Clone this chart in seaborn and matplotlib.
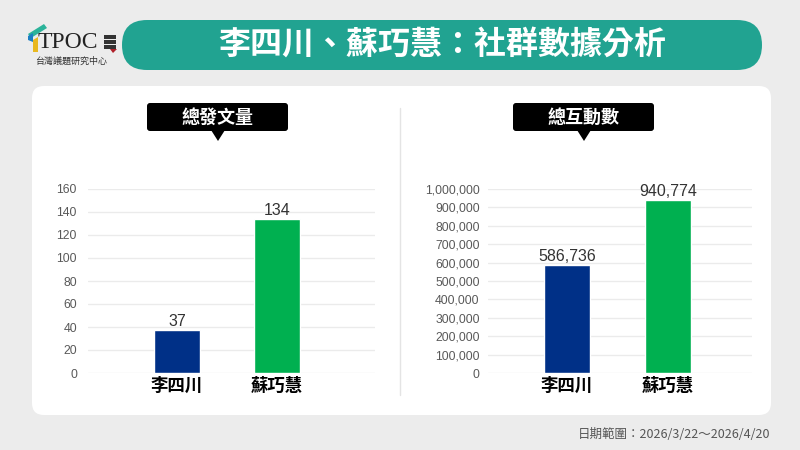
import matplotlib
matplotlib.use('Agg')
import matplotlib.pyplot as plt
from matplotlib.patches import FancyBboxPatch, Polygon
from matplotlib.ticker import FuncFormatter
import seaborn as sns

# data
names = ['李四川', '蘇巧慧']
posts = [37, 134]
interactions = [586736, 940774]
bar_colors = ['#003087', '#00b050']

title = '李四川、蘇巧慧：社群數據分析'
panel_titles = ['總發文量', '總互動數']
date_note = '日期範圍：2026/3/22～2026/4/20'

sns.set_theme(style='white')
plt.rcParams['font.family'] = ['Noto Sans CJK TC', 'DejaVu Sans']

W, H = 800, 450
fig = plt.figure(figsize=(8, 4.5), dpi=100)
fig.patch.set_facecolor('#ececec')


def px(x0, y0, x1, y1):
    return [x0 / W, 1 - y1 / H, (x1 - x0) / W, (y1 - y0) / H]


# overlay for decorations (pixel coordinates)
deco = fig.add_axes([0, 0, 1, 1], zorder=0)
deco.set_xlim(0, W)
deco.set_ylim(H, 0)
deco.axis('off')

# title pill
deco.add_patch(FancyBboxPatch((122, 20), 640, 50, boxstyle='round,pad=0,rounding_size=25',
                              fc='#21a391', ec='none'))
deco.text(442, 45, title, color='white', fontsize=23, fontweight='bold',
          ha='center', va='center')

# white card
deco.add_patch(FancyBboxPatch((32, 86), 739, 329, boxstyle='round,pad=0,rounding_size=12',
                              fc='white', ec='none'))
deco.plot([400, 400], [108, 395], color='#e4e4e4', lw=1)

# logo
deco.add_patch(Polygon([(28, 34), (44, 24), (47, 28), (31, 38)], fc='#2bb39a', ec='none'))
deco.add_patch(Polygon([(28, 36), (33, 33), (33, 42), (28, 40)], fc='#1b7fc4', ec='none'))
deco.add_patch(Polygon([(33, 40), (38, 37), (38, 52), (33, 52)], fc='#e8b820', ec='none'))
deco.text(38, 43, 'TPOC', family='Liberation Serif', fontsize=17, color='#222222',
          ha='left', va='center')
for yy in (35, 40, 45):
    deco.add_patch(FancyBboxPatch((104, yy), 12, 3.5, boxstyle='square,pad=0',
                                  fc='#333333', ec='none'))
deco.add_patch(Polygon([(110, 49), (117, 49), (113, 53)], fc='#b0202a', ec='none'))
deco.text(71, 61, '台灣議題研究中心', fontsize=6.5, color='#333333', ha='center', va='center')

# footer
deco.text(770, 434, date_note, fontsize=9, color='#555555', ha='right', va='center')

# panel label boxes with pointer
for (bx0, bx1, tip), label in zip([(147, 288, 218), (513, 654, 584)], panel_titles):
    deco.add_patch(FancyBboxPatch((bx0, 103), bx1 - bx0, 28,
                                  boxstyle='round,pad=0,rounding_size=3', fc='black', ec='none'))
    deco.add_patch(Polygon([(tip - 7, 130), (tip + 7, 130), (tip, 141)], fc='black', ec='none'))
    deco.text((bx0 + bx1) / 2, 117, label, color='white', fontsize=13, fontweight='bold',
              ha='center', va='center')


def draw_panel(rect, values, ymax, step, xlim, width, fmt, tick_pad):
    ax = fig.add_axes(px(*rect), zorder=2)
    ax.patch.set_alpha(0)
    sns.barplot(x=names, y=values, hue=names, palette=bar_colors, width=width,
                legend=False, ax=ax, saturation=1)
    ax.set_xlim(*xlim)
    ax.set_ylim(0, ymax)
    ax.set_yticks(range(0, ymax + 1, step))
    ax.yaxis.set_major_formatter(FuncFormatter(lambda v, p: fmt(v)))
    ax.grid(axis='y', color='#ebebeb', lw=1)
    ax.set_axisbelow(True)
    for s in ax.spines.values():
        s.set_visible(False)
    ax.tick_params(axis='y', length=0, pad=tick_pad, labelsize=8.8, labelcolor='#595959')
    ax.tick_params(axis='x', length=0, pad=3)
    for t in ax.get_yticklabels():
        t.set_family(['Liberation Sans', 'DejaVu Sans'])
    for t in ax.get_xticklabels():
        t.set_fontsize(12.5)
        t.set_fontweight('bold')
        t.set_color('black')
    ax.set_xlabel('')
    ax.set_ylabel('')
    for c in ax.containers:
        labels = ax.bar_label(c, labels=[fmt(v) for v in c.datavalues], padding=1,
                              fontsize=11.5, color='#333333')
        for t in labels:
            t.set_family(['Liberation Sans', 'DejaVu Sans'])
    return ax


draw_panel((88, 189, 375, 373), posts, 160, 20, (-0.89, 1.98), 0.46,
           lambda v: f'{int(v)}', 8)
draw_panel((488, 189, 752, 373), interactions, 1000000, 100000, (-0.78, 1.83), 0.45,
           lambda v: f'{int(v):,}', 6)

fig.savefig('out.png', dpi=100, facecolor=fig.get_facecolor())
